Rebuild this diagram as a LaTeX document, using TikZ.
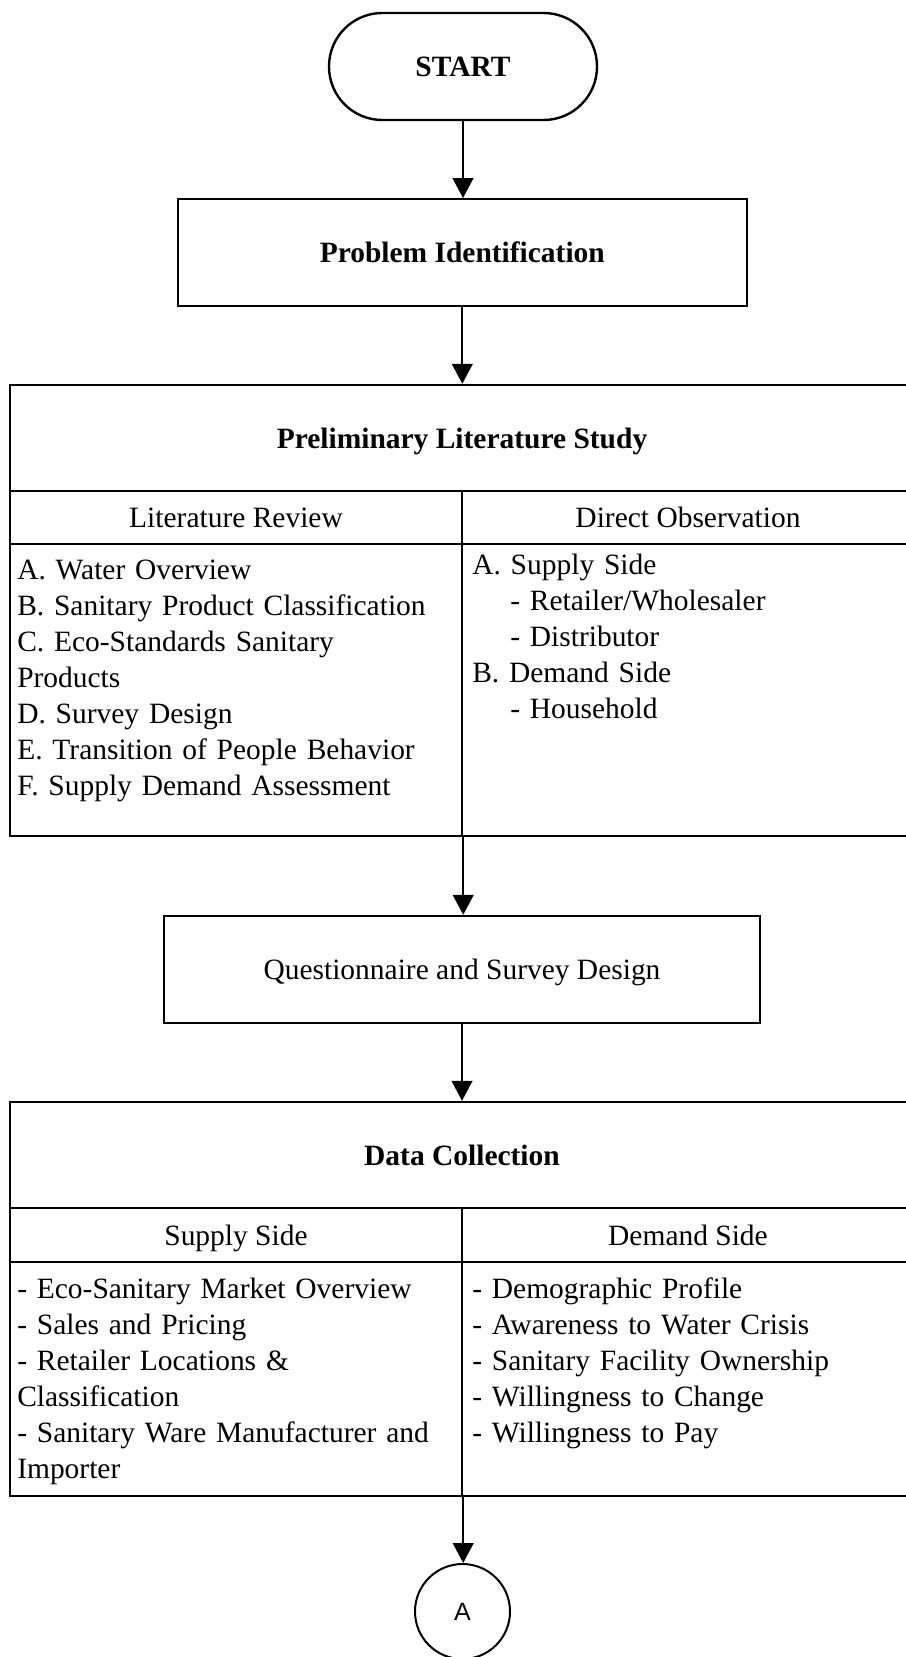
\documentclass[tikz,border=0pt]{standalone}
\usepackage{fontspec}
\setmainfont{Liberation Serif}
\newfontfamily\connfont{Liberation Sans}
\usetikzlibrary{arrows.meta}

\tikzset{
  txt/.style={font=\fontsize{22.1pt}{27pt}\selectfont},
  box/.style={txt, draw, line width=1.8pt, rectangle, inner sep=0pt,
    text height=18pt, text depth=3pt},
  term/.style={box, rounded corners=40pt},
  listing/.style={txt, inner sep=0pt, align=left, text width=322.5pt, anchor=base west},
  arr/.style={line width=1.6pt, -{Triangle[length=15pt,width=15.5pt]}},
  conn/.style={draw, circle, line width=1.5pt, inner sep=0pt, minimum size=71.25pt,
    font=\connfont\fontsize{18.75pt}{20pt}\selectfont},
  wide/.style={minimum width=678pt},
  half/.style={minimum width=339pt}
}

\begin{document}
\begin{tikzpicture}[x=0.75pt,y=-0.75pt]
\useasboundingbox (0,0) rectangle (906,1657);
\clip (0,0) rectangle (906,1657);

% start and problem identification
\node[term, minimum width=201pt, minimum height=80.25pt] (start) at (463,66.5) {\bfseries START};
\node[box, minimum width=426.75pt, minimum height=79.9pt] (prob) at (462.3,252.5) {\bfseries Problem Identification};

% preliminary literature study table
\node[box, wide, minimum height=79.5pt] (prehead) at (462,438) {\bfseries Preliminary Literature Study};
\node[box, half, minimum height=39.75pt] (lithead) at (236,517.5) {Literature Review};
\node[box, half, minimum height=39.75pt] (obshead) at (688,517.5) {Direct Observation};
\node[box, half, minimum height=219pt] (litbody) at (236,690) {};
\node[box, half, minimum height=219pt] (obsbody) at (688,690) {};
\node[listing] (littext) at (17,579) {A. Water Overview\\
B. Sanitary Product Classification\\
C. Eco-Standards Sanitary\\
Products\\
D. Survey Design\\
E. Transition of People Behavior\\
F. Supply Demand Assessment};
\node[listing] (obstext) at (472,574) {A. Supply Side\\
\hspace*{28.5pt}- Retailer/Wholesaler\\
\hspace*{28.5pt}- Distributor\\
B. Demand Side\\
\hspace*{28.5pt}- Household};

% questionnaire
\node[box, minimum width=447pt, minimum height=80.25pt] (quest) at (462,969.5) {Questionnaire and Survey Design};

% data collection table
\node[box, wide, minimum height=79.5pt] (datahead) at (462,1155) {\bfseries Data Collection};
\node[box, half, minimum height=40.5pt] (suphead) at (236,1235) {Supply Side};
\node[box, half, minimum height=40.5pt] (demhead) at (688,1235) {Demand Side};
\node[box, half, minimum height=175.5pt] (supbody) at (236,1379) {};
\node[box, half, minimum height=175.5pt] (dembody) at (688,1379) {};
\node[listing] (suptext) at (17,1298) {- Eco-Sanitary Market Overview\\
- Sales and Pricing\\
- Retailer Locations \&\\
Classification\\
- Sanitary Ware Manufacturer and\\
Importer};
\node[listing] (demtext) at (472,1298) {- Demographic Profile\\
- Awareness to Water Crisis\\
- Sanitary Facility Ownership\\
- Willingness to Change\\
- Willingness to Pay};

% off-page connector
\node[conn] (conA) at (462.5,1611.5) {A};

% flow arrows
\draw[arr] (start.south) -- (start.south |- prob.north);
\draw[arr] (prob.south) -- (prob.south |- prehead.north);
\draw[arr] (litbody.south east) -- (litbody.south east |- quest.north);
\draw[arr] (quest.south) -- (quest.south |- datahead.north);
\draw[arr] (supbody.south east) -- (supbody.south east |- conA.north);
\end{tikzpicture}
\end{document}
